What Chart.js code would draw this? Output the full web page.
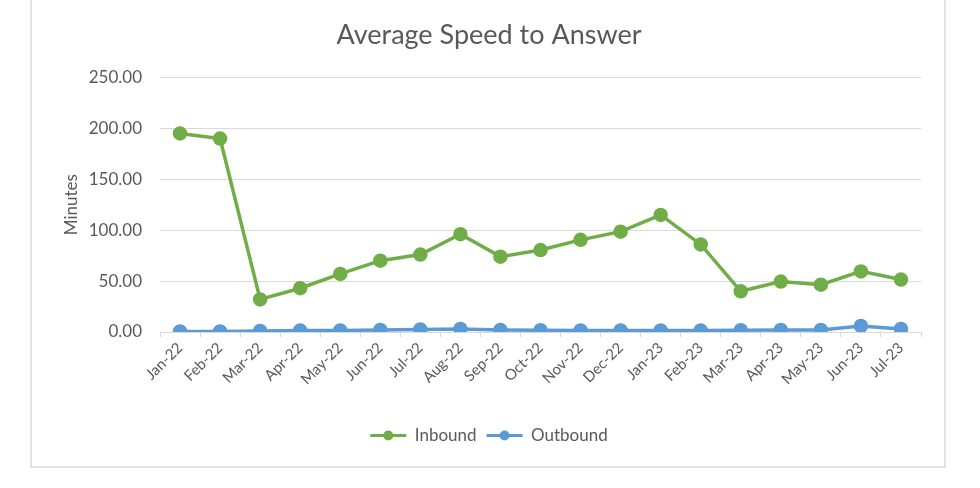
<!DOCTYPE html>
<html>
<head>
<meta charset="utf-8">
<script src="https://cdn.jsdelivr.net/npm/chart.js@4.4.1/dist/chart.umd.min.js"></script>
<style>
  html, body { margin: 0; padding: 0; background: #fff; }
  #wrap { position: relative; width: 980px; height: 488px; overflow: hidden; }
  #frame { position: absolute; left: 30px; top: -10px; width: 912px; height: 474px; border: 2px solid #e3e3e3; }
  #chart { position: absolute; left: 0; top: 0; }
</style>
</head>
<body>
<div id="wrap">
  <div id="frame"></div>
  <canvas id="chart" width="980" height="488"></canvas>
</div>
<script>
var months = ['Jan-22', 'Feb-22', 'Mar-22', 'Apr-22', 'May-22', 'Jun-22', 'Jul-22', 'Aug-22', 'Sep-22', 'Oct-22',
              'Nov-22', 'Dec-22', 'Jan-23', 'Feb-23', 'Mar-23', 'Apr-23', 'May-23', 'Jun-23', 'Jul-23'];
var inbound = [195, 190, 32, 43, 57, 70, 76, 96, 74, 80.5, 90.5, 98.5, 115, 86, 40, 49.5, 46.5, 59.5, 51.5];
var outbound = [0.5, 0.5, 1, 1.5, 1.5, 2, 2.5, 3, 2, 1.8, 1.5, 1.5, 1.5, 1.5, 1.8, 2, 2, 6, 3];
var yTicks = [0, 50, 100, 150, 200, 250];

var textColor = '#595959';
var fontFamily = 'Lato, "Open Sans", sans-serif';
var legendBox = 36;

// draw a marker dot in the middle of each legend line, Excel style
var legendDots = {
    id: 'legendDots',
    afterDraw: function (chart) {
        var legend = chart.legend;
        if (!legend || !legend.legendHitBoxes) return;
        var ctx = chart.ctx;
        legend.legendHitBoxes.forEach(function (box, i) {
            var ds = chart.data.datasets[i];
            ctx.save();
            ctx.fillStyle = ds.borderColor;
            ctx.beginPath();
            ctx.arc(box.left + legendBox / 2, box.top + box.height / 2, 5, 0, Math.PI * 2);
            ctx.fill();
            ctx.restore();
        });
    }
};

new Chart(document.getElementById('chart'), {
    type: 'line',
    data: {
        labels: months,
        datasets: [{
            label: 'Inbound',
            data: inbound,
            borderColor: '#70AD47',
            backgroundColor: '#70AD47',
            borderWidth: 3.5,
            pointRadius: 5.5,
            pointHoverRadius: 5.5,
            tension: 0
        }, {
            label: 'Outbound',
            data: outbound,
            borderColor: '#5B9BD5',
            backgroundColor: '#5B9BD5',
            borderWidth: 3.5,
            pointRadius: 5.5,
            pointHoverRadius: 5.5,
            tension: 0
        }]
    },
    options: {
        responsive: false,
        animation: false,
        layout: { padding: { left: 57, right: 59, top: 0, bottom: 34 } },
        plugins: {
            title: {
                display: true,
                text: 'Average Speed to Answer',
                color: textColor,
                font: { family: fontFamily, size: 27, weight: 'normal' },
                padding: { top: 19, bottom: 26 }
            },
            legend: {
                position: 'bottom',
                labels: {
                    color: textColor,
                    font: { family: fontFamily, size: 17 },
                    boxWidth: legendBox,
                    boxHeight: 3,
                    padding: 10,
                    generateLabels: function (chart) {
                        return chart.data.datasets.map(function (ds, i) {
                            return {
                                text: ds.label,
                                fillStyle: ds.borderColor,
                                strokeStyle: ds.borderColor,
                                lineWidth: 0,
                                fontColor: textColor,
                                datasetIndex: i
                            };
                        });
                    }
                }
            },
            tooltip: { enabled: false }
        },
        scales: {
            x: {
                offset: true,
                grid: { display: true, offset: true, drawOnChartArea: false, drawTicks: true, tickLength: 5, color: '#d9d9d9' },
                border: { display: true, color: '#d9d9d9', width: 1 },
                ticks: {
                    color: textColor,
                    font: { family: fontFamily, size: 15 },
                    maxRotation: 45,
                    minRotation: 45,
                    autoSkip: false,
                    padding: 2
                },
                afterFit: function (scale) { scale.height = 85; }
            },
            y: {
                min: 0,
                max: 250,
                afterBuildTicks: function (scale) {
                    scale.ticks = yTicks.map(function (v) { return { value: v }; });
                },
                grid: { color: '#d9d9d9', drawTicks: false },
                border: { display: false },
                ticks: {
                    color: textColor,
                    font: { family: fontFamily, size: 17 },
                    padding: 18,
                    callback: function (v) { return Number(v).toFixed(2); }
                },
                title: {
                    display: true,
                    text: 'Minutes',
                    color: textColor,
                    font: { family: fontFamily, size: 17 },
                    padding: { top: 4, bottom: 4 }
                },
                afterFit: function (scale) { scale.width = 103; }
            }
        }
    },
    plugins: [legendDots]
});
</script>
</body>
</html>
